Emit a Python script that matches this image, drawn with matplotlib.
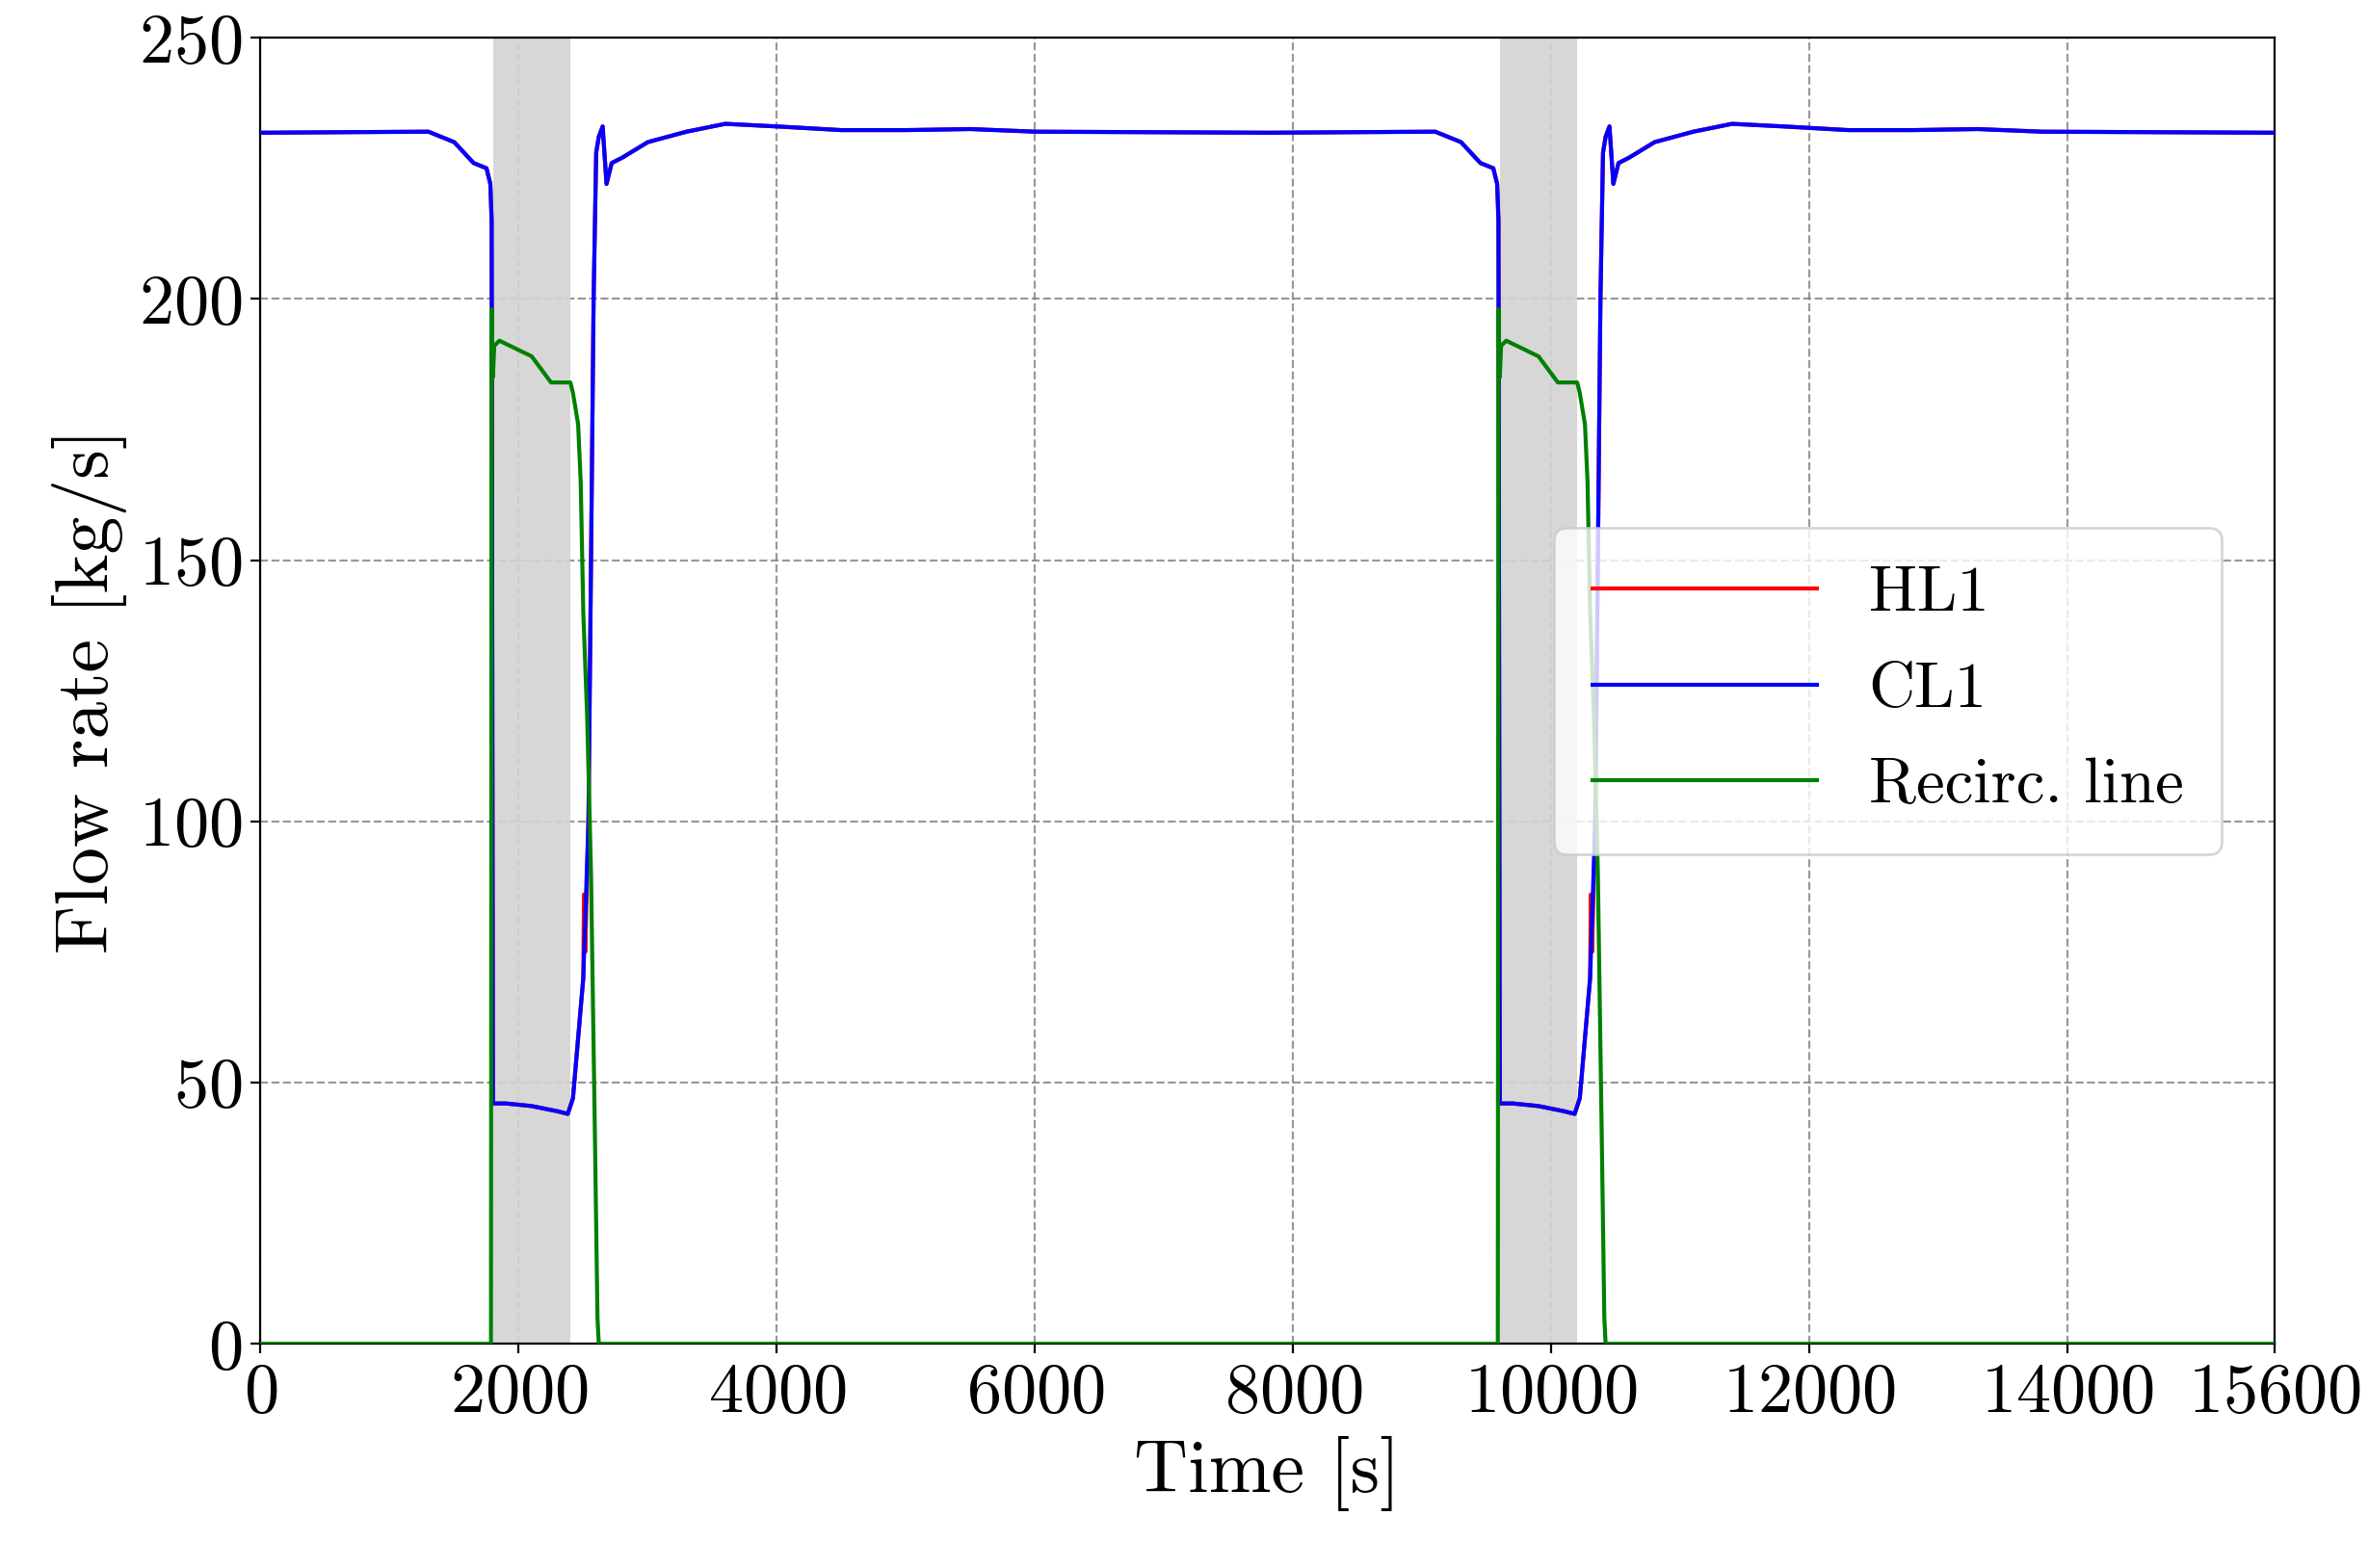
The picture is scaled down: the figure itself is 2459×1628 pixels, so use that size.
import numpy as np
import matplotlib
matplotlib.use("Agg")
import matplotlib.pyplot as plt

plt.rcParams['font.family'] = 'serif'
plt.rcParams['font.serif'] = ['cmr10', 'DejaVu Serif']
plt.rcParams['mathtext.fontset'] = 'cm'
plt.rcParams['axes.formatter.use_mathtext'] = True
plt.rcParams['font.size'] = 26

# one transient cycle (time offset applied for the second one)
PERIOD = 7800
cl_t = [0, 1300, 1500, 1650, 1750, 1780, 1790, 1800, 1900, 2100, 2300, 2380, 2420,
        2500, 2540, 2560, 2580, 2600, 2620, 2650, 2680, 2720, 2800, 3000, 3300,
        3600, 4000, 4500, 5000, 5500, 6000, 7800]
cl_v = [231.8, 232, 230, 226, 225, 222, 215, 46, 46, 45.5, 44.5, 44, 47,
        70, 100, 150, 200, 228, 231, 233, 222, 226, 227, 230, 232,
        233.5, 233, 232.3, 232.3, 232.5, 232, 231.8]
# HL1 follows CL1 except a short spike during the recovery
hl_extra_t = [2505, 2510, 2515]
hl_extra_v = [86, 86, 75]
rc_t = [0, 1785, 1790, 1800, 1810, 1850, 2100, 2250, 2400, 2420, 2460, 2480,
        2500, 2530, 2560, 2590, 2610, 2620, 7800]
rc_v = [0, 0, 198, 185, 191, 192, 189, 184, 184, 182, 176, 165,
        140, 120, 90, 40, 5, 0, 0]
shade = [(1800, 2400), (9600, 10200)]


def two_cycles(t, v):
    t = np.array(t, dtype=float)
    v = np.array(v, dtype=float)
    return np.concatenate([t, t[1:] + PERIOD]), np.concatenate([v, v[1:]])


hl_t = np.array(cl_t + hl_extra_t, dtype=float)
hl_v = np.array(cl_v + hl_extra_v, dtype=float)
order = np.argsort(hl_t, kind='stable')

fig, ax = plt.subplots(figsize=(12.295, 8.14), dpi=200)
for a, b in shade:
    ax.axvspan(a, b, color='lightgray', alpha=0.9, lw=0, zorder=1)

ax.plot(*two_cycles(hl_t[order], hl_v[order]), color='red', lw=1.5, label='HL1', zorder=3)
ax.plot(*two_cycles(cl_t, cl_v), color='blue', lw=1.5, label='CL1', zorder=4)
ax.plot(*two_cycles(rc_t, rc_v), color='green', lw=1.5, label='Recirc. line', zorder=5)

ax.set_xlim(0, 15600)
ax.set_ylim(0, 250)
ax.set_xticks([0, 2000, 4000, 6000, 8000, 10000, 12000, 14000, 15600])
ax.set_yticks([0, 50, 100, 150, 200, 250])
ax.set_xlabel('Time [s]', fontsize=28)
ax.set_ylabel('Flow rate [kg/s]', fontsize=28)
ax.grid(True, ls='--', color='gray', lw=0.8, alpha=0.8)
ax.set_axisbelow(True)
ax.legend(loc='center right', bbox_to_anchor=(0.99, 0.5), fontsize=24,
          handlelength=3.5, borderpad=0.6, labelspacing=0.6)
fig.subplots_adjust(left=0.11, right=0.96, top=0.976, bottom=0.143)
fig.savefig('out.png', dpi=200)
